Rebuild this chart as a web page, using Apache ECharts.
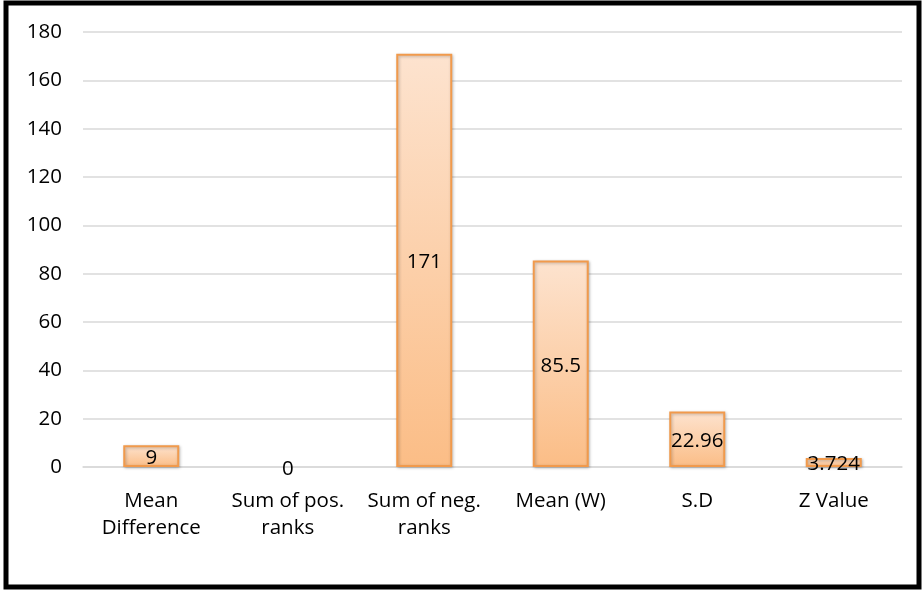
<!DOCTYPE html>
<html><head><meta charset="utf-8">
<script src="https://cdn.jsdelivr.net/npm/echarts@6/dist/echarts.min.js"></script>
<style>html,body{margin:0;padding:0;background:#fff}#c{width:923px;height:592px}</style>
</head><body><div id="c"></div>
<script>
const categories = ['Mean\nDifference', 'Sum of pos.\nranks', 'Sum of neg.\nranks', 'Mean (W)', 'S.D', 'Z Value'];
const values = [9, 0, 171, 85.5, 22.96, 3.724];
const yTicks = {min: 0, max: 180, interval: 20};

const chart = echarts.init(document.getElementById('c'));
const font = 'Open Sans, Liberation Sans, sans-serif';
chart.setOption({
  animation: false,
  grid: {left: 83, right: 21, top: 32, bottom: 125},
  xAxis: {
    type: 'category', data: categories,
    axisLine: {show: true, lineStyle: {color: '#d9d9d9', width: 1.5}},
    axisTick: {show: false},
    axisLabel: {color: '#000', fontSize: 20.5, fontFamily: font, margin: 21, lineHeight: 27, interval: 0, hideOverlap: false}
  },
  yAxis: {
    type: 'value', min: yTicks.min, max: yTicks.max, interval: yTicks.interval,
    axisLine: {show: false}, axisTick: {show: false},
    splitLine: {lineStyle: {color: '#d9d9d9', width: 1.5}},
    axisLabel: {color: '#000', fontSize: 20.5, fontFamily: font, margin: 21}
  },
  series: [{
    type: 'bar',
    data: values.map(v => v === 0 ? {value: v, itemStyle: {borderWidth: 0, shadowBlur: 0, shadowOffsetX: 0, shadowOffsetY: 0}} : v),
    barWidth: 56,
    itemStyle: {
      color: new echarts.graphic.LinearGradient(0, 0, 0, 1, [
        {offset: 0, color: '#fde3cf'}, {offset: 1, color: '#fbbd86'}]),
      borderColor: '#f19a4c', borderWidth: 2,
      shadowColor: 'rgba(0,0,0,0.25)', shadowBlur: 3, shadowOffsetX: 1, shadowOffsetY: 1
    },
    label: {show: true, position: 'inside', color: '#000', fontSize: 20.5, fontFamily: font, offset: [0, 2],
      formatter: p => String(values[p.dataIndex])}
  }],
  graphic: [{
    type: 'rect', shape: {x: 6, y: 3, width: 913, height: 584},
    style: {fill: 'none', stroke: '#000', lineWidth: 5}, silent: true, z: 100
  }]
});
</script></body></html>
